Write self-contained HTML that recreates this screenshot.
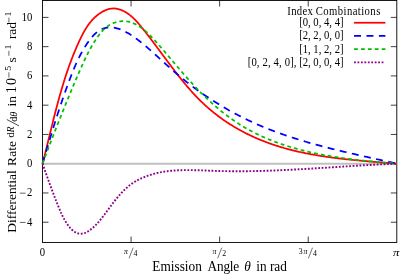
<!DOCTYPE html>
<html><head><meta charset="utf-8"><title>Differential Rate</title>
<style>
html,body{margin:0;padding:0;background:#fff;}
svg{display:block;font-family:"Liberation Serif",serif;fill:#000;will-change:transform;}
</style></head>
<body>
<svg width="415" height="278" viewBox="0 0 415 278">
<rect width="415" height="278" fill="#fff"/>
<path d="M42.5,17.40h6M396.8,17.40h-6M42.5,46.66h6M396.8,46.66h-6M42.5,75.92h6M396.8,75.92h-6M42.5,105.18h6M396.8,105.18h-6M42.5,134.44h6M396.8,134.44h-6M42.5,163.70h6M396.8,163.70h-6M42.5,192.96h6M396.8,192.96h-6M42.5,222.22h6M396.8,222.22h-6M131.07,242.5v-6M131.07,0.5v6M219.65,242.5v-6M219.65,0.5v6M308.23,242.5v-6M308.23,0.5v6" stroke="#000" stroke-width="0.75" fill="none"/>
<rect x="42.5" y="0.5" width="354.3" height="242.0" fill="none" stroke="#000" stroke-width="0.9"/>
<path d="M43.0,163.7H396.3" stroke="#c0c0c0" stroke-width="2" fill="none"/>
<g fill="none" stroke-linejoin="round">
<path d="M42.50,163.70 L42.76,162.69 L43.02,161.69 L43.28,160.68 L43.54,159.68 L43.80,158.67 L44.05,157.66 L44.31,156.65 L44.56,155.65 L44.81,154.64 L45.07,153.63 L45.32,152.62 L45.57,151.61 L45.82,150.60 L46.07,149.59 L46.32,148.59 L46.57,147.58 L46.82,146.57 L47.07,145.56 L47.32,144.55 L47.57,143.54 L47.81,142.53 L48.06,141.52 L48.31,140.51 L48.55,139.50 L48.80,138.49 L49.05,137.48 L49.30,136.47 L49.54,135.46 L49.79,134.45 L50.04,133.43 L50.28,132.42 L50.53,131.41 L50.78,130.40 L51.03,129.39 L51.27,128.38 L51.52,127.37 L51.77,126.37 L52.02,125.36 L52.27,124.35 L52.52,123.34 L52.77,122.33 L53.02,121.32 L53.27,120.31 L53.52,119.30 L53.78,118.29 L54.03,117.29 L54.29,116.28 L54.54,115.27 L54.80,114.26 L55.06,113.26 L55.31,112.25 L55.57,111.24 L55.83,110.24 L56.10,109.23 L56.36,108.23 L56.62,107.22 L56.89,106.22 L57.15,105.21 L57.42,104.21 L57.69,103.20 L57.96,102.20 L58.23,101.20 L58.51,100.20 L58.78,99.20 L59.06,98.20 L59.33,97.19 L59.61,96.19 L59.89,95.19 L60.18,94.20 L60.46,93.20 L60.75,92.20 L61.04,91.20 L61.33,90.21 L61.62,89.21 L61.91,88.21 L62.21,87.22 L62.51,86.23 L62.81,85.23 L63.11,84.24 L63.41,83.25 L63.72,82.26 L64.03,81.26 L64.34,80.27 L64.65,79.29 L64.97,78.30 L65.29,77.31 L65.61,76.32 L65.93,75.34 L66.25,74.35 L66.58,73.37 L66.91,72.38 L67.25,71.40 L67.58,70.42 L67.92,69.44 L68.26,68.46 L68.61,67.48 L68.96,66.50 L69.31,65.52 L69.66,64.54 L70.02,63.57 L70.37,62.59 L70.74,61.62 L71.10,60.65 L71.47,59.68 L71.84,58.70 L72.22,57.74 L72.60,56.77 L72.98,55.80 L73.36,54.83 L73.75,53.87 L74.14,52.90 L74.54,51.94 L74.94,50.98 L75.34,50.02 L75.75,49.06 L76.15,48.10 L76.57,47.14 L76.99,46.18 L77.41,45.23 L77.83,44.28 L78.26,43.32 L78.69,42.37 L79.13,41.42 L79.57,40.47 L80.01,39.52 L80.46,38.58 L80.92,37.64 L81.38,36.70 L81.85,35.77 L82.33,34.83 L82.81,33.91 L83.30,32.99 L83.81,32.07 L84.32,31.17 L84.84,30.27 L85.37,29.37 L85.92,28.49 L86.47,27.61 L87.04,26.74 L87.62,25.88 L88.21,25.03 L88.82,24.19 L89.45,23.37 L90.08,22.55 L90.74,21.75 L91.41,20.95 L92.10,20.18 L92.80,19.41 L93.52,18.66 L94.27,17.92 L95.03,17.20 L95.81,16.49 L96.61,15.80 L97.43,15.13 L98.27,14.48 L99.12,13.85 L100.00,13.24 L100.88,12.66 L101.79,12.11 L102.70,11.58 L103.63,11.10 L104.57,10.64 L105.52,10.22 L106.47,9.84 L107.44,9.51 L108.41,9.21 L109.38,8.96 L110.36,8.76 L111.34,8.61 L112.33,8.51 L113.31,8.47 L114.30,8.48 L115.28,8.55 L116.26,8.67 L117.24,8.84 L118.21,9.05 L119.18,9.32 L120.15,9.62 L121.11,9.97 L122.06,10.36 L123.00,10.79 L123.93,11.25 L124.86,11.75 L125.77,12.27 L126.67,12.83 L127.56,13.42 L128.44,14.03 L129.30,14.66 L130.15,15.32 L130.98,15.99 L131.79,16.68 L132.59,17.39 L133.37,18.11 L134.13,18.84 L134.88,19.59 L135.61,20.34 L136.33,21.10 L137.03,21.87 L137.73,22.65 L138.41,23.43 L139.09,24.23 L139.76,25.02 L140.42,25.82 L141.08,26.62 L141.73,27.43 L142.38,28.24 L143.03,29.04 L143.68,29.85 L144.32,30.66 L144.97,31.48 L145.61,32.29 L146.25,33.10 L146.88,33.92 L147.52,34.74 L148.15,35.55 L148.79,36.37 L149.42,37.19 L150.05,38.01 L150.67,38.84 L151.30,39.66 L151.93,40.48 L152.55,41.31 L153.18,42.13 L153.80,42.96 L154.42,43.78 L155.04,44.61 L155.66,45.44 L156.28,46.27 L156.90,47.10 L157.52,47.93 L158.14,48.75 L158.75,49.58 L159.37,50.42 L159.99,51.25 L160.60,52.08 L161.22,52.91 L161.84,53.74 L162.45,54.57 L163.07,55.40 L163.69,56.24 L164.31,57.07 L164.92,57.90 L165.54,58.73 L166.16,59.56 L166.78,60.40 L167.40,61.23 L168.02,62.06 L168.64,62.89 L169.26,63.72 L169.89,64.55 L170.51,65.38 L171.14,66.21 L171.76,67.04 L172.39,67.87 L173.02,68.70 L173.65,69.52 L174.28,70.35 L174.92,71.18 L175.55,72.00 L176.19,72.82 L176.83,73.65 L177.47,74.47 L178.11,75.29 L178.75,76.11 L179.40,76.92 L180.04,77.74 L180.69,78.55 L181.35,79.36 L182.00,80.17 L182.66,80.98 L183.32,81.79 L183.98,82.59 L184.64,83.39 L185.31,84.19 L185.97,84.99 L186.65,85.79 L187.32,86.58 L188.00,87.37 L188.68,88.16 L189.36,88.94 L190.04,89.72 L190.73,90.50 L191.42,91.28 L192.12,92.05 L192.82,92.82 L193.52,93.58 L194.22,94.35 L194.93,95.11 L195.64,95.86 L196.36,96.61 L197.07,97.36 L197.80,98.11 L198.52,98.85 L199.25,99.59 L199.99,100.32 L200.72,101.05 L201.47,101.77 L202.21,102.49 L202.96,103.21 L203.71,103.92 L204.47,104.63 L205.24,105.33 L206.00,106.03 L206.77,106.72 L207.55,107.41 L208.33,108.10 L209.11,108.78 L209.90,109.45 L210.69,110.12 L211.49,110.79 L212.29,111.45 L213.10,112.10 L213.91,112.75 L214.72,113.40 L215.54,114.04 L216.36,114.68 L217.18,115.31 L218.01,115.94 L218.84,116.56 L219.68,117.18 L220.52,117.79 L221.36,118.40 L222.21,119.00 L223.06,119.60 L223.91,120.19 L224.77,120.78 L225.63,121.36 L226.49,121.94 L227.36,122.52 L228.23,123.08 L229.10,123.65 L229.98,124.21 L230.86,124.76 L231.74,125.31 L232.63,125.86 L233.52,126.40 L234.41,126.93 L235.30,127.46 L236.20,127.99 L237.10,128.51 L238.01,129.02 L238.91,129.53 L239.82,130.04 L240.73,130.54 L241.65,131.03 L242.57,131.52 L243.49,132.01 L244.41,132.49 L245.33,132.97 L246.26,133.44 L247.19,133.90 L248.12,134.36 L249.05,134.82 L249.99,135.27 L250.93,135.72 L251.87,136.16 L252.81,136.59 L253.76,137.02 L254.70,137.45 L255.65,137.87 L256.60,138.29 L257.56,138.70 L258.51,139.10 L259.47,139.50 L260.42,139.90 L261.38,140.29 L262.35,140.67 L263.31,141.05 L264.27,141.43 L265.24,141.80 L266.21,142.17 L267.18,142.53 L268.15,142.88 L269.12,143.23 L270.10,143.58 L271.08,143.92 L272.05,144.26 L273.03,144.59 L274.01,144.92 L275.00,145.25 L275.98,145.57 L276.96,145.88 L277.95,146.19 L278.94,146.50 L279.93,146.80 L280.92,147.10 L281.91,147.39 L282.90,147.68 L283.90,147.97 L284.89,148.25 L285.89,148.53 L286.89,148.80 L287.89,149.07 L288.89,149.34 L289.89,149.60 L290.90,149.85 L291.90,150.11 L292.91,150.36 L293.91,150.61 L294.92,150.85 L295.93,151.09 L296.94,151.32 L297.95,151.56 L298.96,151.79 L299.98,152.01 L300.99,152.23 L302.00,152.45 L303.02,152.67 L304.04,152.88 L305.05,153.09 L306.07,153.29 L307.09,153.50 L308.11,153.70 L309.13,153.89 L310.16,154.08 L311.18,154.27 L312.20,154.46 L313.23,154.65 L314.25,154.83 L315.28,155.01 L316.30,155.18 L317.33,155.36 L318.36,155.53 L319.39,155.69 L320.42,155.86 L321.45,156.02 L322.48,156.18 L323.51,156.34 L324.54,156.49 L325.57,156.65 L326.60,156.80 L327.64,156.94 L328.67,157.09 L329.71,157.23 L330.74,157.37 L331.77,157.51 L332.81,157.65 L333.85,157.79 L334.88,157.92 L335.92,158.05 L336.95,158.18 L337.99,158.30 L339.03,158.43 L340.07,158.55 L341.10,158.67 L342.14,158.79 L343.18,158.91 L344.22,159.03 L345.26,159.14 L346.30,159.26 L347.33,159.37 L348.37,159.48 L349.41,159.59 L350.45,159.69 L351.49,159.80 L352.53,159.90 L353.57,160.00 L354.61,160.11 L355.65,160.21 L356.69,160.31 L357.73,160.40 L358.77,160.50 L359.81,160.60 L360.85,160.69 L361.88,160.79 L362.92,160.88 L363.96,160.97 L365.00,161.06 L366.04,161.15 L367.08,161.24 L368.11,161.33 L369.15,161.42 L370.19,161.51 L371.23,161.60 L372.26,161.68 L373.30,161.77 L374.33,161.85 L375.37,161.94 L376.41,162.02 L377.44,162.11 L378.47,162.19 L379.51,162.28 L380.54,162.36 L381.58,162.44 L382.61,162.53 L383.64,162.61 L384.67,162.69 L385.70,162.78 L386.73,162.86 L387.76,162.94 L388.79,163.03 L389.82,163.11 L390.85,163.19 L391.87,163.28 L392.90,163.36 L393.93,163.44 L394.95,163.53 L395.98,163.61 L397.00,163.70" stroke="#ff0000" stroke-width="1.75"/>
<path d="M42.50,163.70 L42.77,162.79 L43.04,161.87 L43.31,160.95 L43.59,160.04 L43.86,159.12 L44.13,158.20 L44.40,157.28 L44.68,156.36 L44.95,155.44 L45.22,154.52 L45.50,153.60 L45.77,152.68 L46.05,151.76 L46.32,150.84 L46.60,149.91 L46.87,148.99 L47.15,148.07 L47.42,147.14 L47.70,146.22 L47.98,145.29 L48.26,144.37 L48.53,143.44 L48.81,142.51 L49.09,141.59 L49.37,140.66 L49.65,139.73 L49.93,138.81 L50.21,137.88 L50.50,136.95 L50.78,136.03 L51.06,135.10 L51.35,134.17 L51.63,133.24 L51.91,132.31 L52.20,131.39 L52.49,130.46 L52.77,129.53 L53.06,128.60 L53.35,127.67 L53.64,126.75 L53.92,125.82 L54.21,124.89 L54.50,123.96 L54.80,123.04 L55.09,122.11 L55.38,121.18 L55.67,120.25 L55.97,119.33 L56.26,118.40 L56.56,117.48 L56.86,116.55 L57.15,115.62 L57.45,114.70 L57.75,113.78 L58.05,112.85 L58.35,111.93 L58.65,111.00 L58.95,110.08 L59.26,109.16 L59.56,108.24 L59.87,107.32 L60.17,106.39 L60.48,105.47 L60.79,104.56 L61.10,103.64 L61.40,102.72 L61.72,101.80 L62.03,100.88 L62.34,99.97 L62.65,99.05 L62.97,98.14 L63.28,97.22 L63.60,96.31 L63.92,95.40 L64.24,94.48 L64.56,93.57 L64.88,92.66 L65.20,91.76 L65.52,90.85 L65.85,89.94 L66.17,89.03 L66.50,88.13 L66.83,87.22 L67.16,86.32 L67.49,85.42 L67.82,84.52 L68.15,83.62 L68.48,82.72 L68.82,81.82 L69.16,80.93 L69.49,80.03 L69.83,79.14 L70.17,78.24 L70.51,77.35 L70.86,76.46 L71.20,75.57 L71.55,74.68 L71.89,73.80 L72.24,72.91 L72.60,72.03 L72.95,71.15 L73.31,70.26 L73.67,69.38 L74.04,68.51 L74.41,67.63 L74.78,66.75 L75.15,65.88 L75.54,65.00 L75.92,64.13 L76.31,63.26 L76.70,62.39 L77.10,61.52 L77.51,60.65 L77.92,59.79 L78.34,58.92 L78.76,58.06 L79.19,57.20 L79.62,56.34 L80.06,55.48 L80.51,54.62 L80.97,53.76 L81.43,52.91 L81.90,52.05 L82.38,51.20 L82.87,50.35 L83.36,49.50 L83.86,48.65 L84.37,47.80 L84.89,46.96 L85.42,46.11 L85.96,45.27 L86.51,44.42 L87.07,43.58 L87.64,42.75 L88.22,41.91 L88.80,41.09 L89.40,40.27 L90.01,39.46 L90.64,38.67 L91.27,37.89 L91.91,37.12 L92.57,36.37 L93.24,35.64 L93.92,34.93 L94.61,34.24 L95.32,33.58 L96.04,32.94 L96.77,32.33 L97.52,31.75 L98.28,31.20 L99.05,30.68 L99.84,30.20 L100.64,29.75 L101.46,29.34 L102.30,28.97 L103.14,28.64 L104.01,28.35 L104.88,28.11 L105.77,27.90 L106.67,27.74 L107.58,27.61 L108.50,27.52 L109.42,27.46 L110.35,27.45 L111.28,27.47 L112.22,27.52 L113.16,27.61 L114.10,27.73 L115.04,27.88 L115.97,28.07 L116.90,28.29 L117.83,28.53 L118.76,28.81 L119.67,29.12 L120.58,29.45 L121.47,29.81 L122.36,30.20 L123.24,30.61 L124.11,31.03 L124.97,31.48 L125.82,31.93 L126.67,32.40 L127.51,32.87 L128.34,33.36 L129.17,33.86 L129.99,34.36 L130.80,34.87 L131.61,35.40 L132.42,35.93 L133.22,36.47 L134.01,37.02 L134.80,37.57 L135.58,38.13 L136.36,38.70 L137.13,39.27 L137.91,39.85 L138.67,40.44 L139.43,41.03 L140.19,41.63 L140.95,42.23 L141.70,42.83 L142.45,43.44 L143.20,44.06 L143.94,44.67 L144.68,45.29 L145.42,45.92 L146.15,46.54 L146.89,47.17 L147.62,47.80 L148.35,48.43 L149.08,49.06 L149.81,49.70 L150.53,50.33 L151.25,50.97 L151.98,51.61 L152.70,52.25 L153.42,52.89 L154.13,53.54 L154.85,54.18 L155.57,54.83 L156.28,55.48 L157.00,56.12 L157.71,56.77 L158.42,57.42 L159.14,58.07 L159.85,58.72 L160.56,59.37 L161.27,60.02 L161.99,60.67 L162.70,61.32 L163.41,61.97 L164.12,62.62 L164.84,63.27 L165.55,63.92 L166.26,64.57 L166.98,65.21 L167.69,65.86 L168.41,66.51 L169.12,67.15 L169.84,67.79 L170.56,68.44 L171.28,69.08 L172.00,69.72 L172.72,70.35 L173.45,70.99 L174.17,71.62 L174.90,72.26 L175.63,72.89 L176.36,73.52 L177.09,74.14 L177.82,74.77 L178.56,75.39 L179.30,76.01 L180.04,76.63 L180.78,77.24 L181.52,77.85 L182.27,78.47 L183.02,79.07 L183.77,79.68 L184.52,80.28 L185.27,80.89 L186.03,81.49 L186.78,82.08 L187.54,82.68 L188.30,83.27 L189.07,83.86 L189.83,84.45 L190.60,85.04 L191.36,85.62 L192.13,86.20 L192.90,86.78 L193.68,87.36 L194.45,87.94 L195.23,88.51 L196.00,89.08 L196.78,89.65 L197.57,90.21 L198.35,90.78 L199.13,91.34 L199.92,91.90 L200.71,92.45 L201.50,93.01 L202.29,93.56 L203.08,94.11 L203.88,94.65 L204.67,95.20 L205.47,95.74 L206.27,96.28 L207.07,96.82 L207.88,97.35 L208.68,97.89 L209.49,98.42 L210.29,98.95 L211.10,99.47 L211.91,99.99 L212.73,100.52 L213.54,101.03 L214.36,101.55 L215.17,102.06 L215.99,102.58 L216.81,103.08 L217.63,103.59 L218.45,104.09 L219.28,104.60 L220.10,105.10 L220.93,105.59 L221.76,106.09 L222.59,106.58 L223.42,107.07 L224.26,107.56 L225.09,108.04 L225.93,108.52 L226.76,109.00 L227.60,109.48 L228.44,109.95 L229.28,110.43 L230.13,110.89 L230.97,111.36 L231.82,111.83 L232.66,112.29 L233.51,112.75 L234.36,113.21 L235.21,113.66 L236.06,114.11 L236.92,114.56 L237.77,115.01 L238.63,115.45 L239.49,115.90 L240.34,116.33 L241.20,116.77 L242.07,117.21 L242.93,117.64 L243.79,118.07 L244.66,118.49 L245.52,118.92 L246.39,119.34 L247.26,119.76 L248.13,120.17 L249.00,120.59 L249.87,121.00 L250.75,121.41 L251.62,121.81 L252.50,122.22 L253.37,122.62 L254.25,123.01 L255.13,123.41 L256.01,123.80 L256.89,124.19 L257.77,124.58 L258.66,124.96 L259.54,125.35 L260.43,125.73 L261.31,126.10 L262.20,126.48 L263.09,126.85 L263.98,127.22 L264.87,127.58 L265.76,127.95 L266.66,128.31 L267.55,128.67 L268.45,129.03 L269.34,129.38 L270.24,129.73 L271.14,130.08 L272.04,130.43 L272.94,130.77 L273.84,131.11 L274.74,131.45 L275.64,131.79 L276.55,132.12 L277.45,132.46 L278.36,132.79 L279.26,133.12 L280.17,133.44 L281.08,133.76 L281.99,134.09 L282.89,134.41 L283.81,134.72 L284.72,135.04 L285.63,135.35 L286.54,135.66 L287.46,135.97 L288.37,136.28 L289.28,136.58 L290.20,136.89 L291.12,137.19 L292.03,137.49 L292.95,137.78 L293.87,138.08 L294.79,138.37 L295.71,138.66 L296.63,138.95 L297.55,139.24 L298.48,139.53 L299.40,139.81 L300.32,140.09 L301.25,140.37 L302.17,140.65 L303.10,140.93 L304.02,141.21 L304.95,141.48 L305.88,141.75 L306.81,142.02 L307.73,142.29 L308.66,142.56 L309.59,142.83 L310.52,143.09 L311.45,143.35 L312.38,143.62 L313.31,143.88 L314.25,144.13 L315.18,144.39 L316.11,144.65 L317.05,144.90 L317.98,145.16 L318.91,145.41 L319.85,145.66 L320.78,145.91 L321.72,146.15 L322.66,146.40 L323.59,146.65 L324.53,146.89 L325.47,147.13 L326.40,147.38 L327.34,147.62 L328.28,147.86 L329.22,148.09 L330.16,148.33 L331.10,148.57 L332.03,148.80 L332.97,149.04 L333.91,149.27 L334.85,149.50 L335.80,149.73 L336.74,149.96 L337.68,150.19 L338.62,150.42 L339.56,150.65 L340.50,150.88 L341.44,151.10 L342.39,151.33 L343.33,151.55 L344.27,151.78 L345.21,152.00 L346.16,152.22 L347.10,152.44 L348.04,152.66 L348.98,152.88 L349.93,153.10 L350.87,153.32 L351.81,153.54 L352.76,153.76 L353.70,153.97 L354.64,154.19 L355.59,154.40 L356.53,154.62 L357.48,154.83 L358.42,155.05 L359.36,155.26 L360.31,155.48 L361.25,155.69 L362.19,155.90 L363.14,156.12 L364.08,156.33 L365.02,156.54 L365.97,156.75 L366.91,156.96 L367.85,157.17 L368.80,157.38 L369.74,157.59 L370.68,157.80 L371.63,158.01 L372.57,158.22 L373.51,158.43 L374.45,158.64 L375.40,158.85 L376.34,159.06 L377.28,159.27 L378.22,159.48 L379.16,159.69 L380.11,159.90 L381.05,160.11 L381.99,160.32 L382.93,160.53 L383.87,160.74 L384.81,160.95 L385.75,161.16 L386.69,161.37 L387.63,161.58 L388.57,161.79 L389.50,162.00 L390.44,162.21 L391.38,162.42 L392.32,162.64 L393.25,162.85 L394.19,163.06 L395.13,163.27 L396.06,163.49 L397.00,163.70" stroke="#0000ff" stroke-width="1.75" stroke-dasharray="6.95 5.48"/>
<path d="M42.50,163.70 L42.85,162.78 L43.19,161.85 L43.54,160.93 L43.89,160.00 L44.24,159.08 L44.58,158.15 L44.93,157.23 L45.28,156.30 L45.63,155.38 L45.98,154.45 L46.33,153.53 L46.68,152.61 L47.03,151.68 L47.38,150.76 L47.73,149.83 L48.09,148.91 L48.44,147.98 L48.79,147.06 L49.14,146.14 L49.50,145.21 L49.85,144.29 L50.20,143.37 L50.56,142.44 L50.91,141.52 L51.27,140.60 L51.62,139.67 L51.98,138.75 L52.34,137.83 L52.69,136.90 L53.05,135.98 L53.41,135.06 L53.77,134.14 L54.12,133.22 L54.48,132.29 L54.84,131.37 L55.20,130.45 L55.56,129.53 L55.92,128.61 L56.28,127.68 L56.65,126.76 L57.01,125.84 L57.37,124.92 L57.73,124.00 L58.10,123.08 L58.46,122.16 L58.82,121.24 L59.19,120.32 L59.55,119.40 L59.92,118.48 L60.28,117.56 L60.65,116.64 L61.02,115.72 L61.38,114.81 L61.75,113.89 L62.12,112.97 L62.49,112.05 L62.86,111.13 L63.23,110.22 L63.60,109.30 L63.97,108.38 L64.34,107.47 L64.71,106.55 L65.08,105.63 L65.46,104.72 L65.83,103.80 L66.20,102.89 L66.58,101.97 L66.95,101.06 L67.33,100.14 L67.70,99.23 L68.08,98.31 L68.45,97.40 L68.83,96.49 L69.21,95.57 L69.59,94.66 L69.96,93.75 L70.34,92.84 L70.72,91.92 L71.10,91.01 L71.48,90.10 L71.87,89.19 L72.25,88.28 L72.63,87.37 L73.01,86.46 L73.40,85.55 L73.78,84.64 L74.16,83.73 L74.55,82.82 L74.93,81.92 L75.32,81.01 L75.71,80.10 L76.09,79.19 L76.48,78.29 L76.87,77.38 L77.26,76.48 L77.65,75.57 L78.04,74.66 L78.43,73.76 L78.82,72.86 L79.21,71.95 L79.60,71.05 L80.00,70.15 L80.39,69.24 L80.79,68.34 L81.19,67.44 L81.59,66.54 L81.99,65.65 L82.40,64.75 L82.80,63.85 L83.21,62.96 L83.62,62.06 L84.04,61.17 L84.45,60.28 L84.87,59.39 L85.30,58.50 L85.73,57.62 L86.16,56.73 L86.59,55.85 L87.03,54.97 L87.47,54.09 L87.92,53.21 L88.37,52.34 L88.83,51.47 L89.29,50.60 L89.76,49.73 L90.23,48.86 L90.71,48.00 L91.19,47.14 L91.68,46.28 L92.17,45.42 L92.67,44.57 L93.18,43.72 L93.69,42.87 L94.21,42.03 L94.74,41.19 L95.27,40.35 L95.81,39.52 L96.36,38.68 L96.91,37.86 L97.48,37.04 L98.05,36.23 L98.64,35.43 L99.23,34.64 L99.84,33.86 L100.46,33.09 L101.10,32.33 L101.74,31.60 L102.40,30.88 L103.08,30.17 L103.77,29.49 L104.48,28.82 L105.21,28.18 L105.95,27.56 L106.72,26.96 L107.50,26.39 L108.30,25.84 L109.11,25.32 L109.94,24.83 L110.79,24.36 L111.65,23.92 L112.52,23.51 L113.40,23.14 L114.29,22.79 L115.20,22.47 L116.11,22.19 L117.03,21.93 L117.96,21.71 L118.89,21.53 L119.83,21.38 L120.77,21.26 L121.72,21.19 L122.67,21.14 L123.62,21.14 L124.57,21.17 L125.52,21.25 L126.46,21.36 L127.41,21.51 L128.35,21.69 L129.28,21.91 L130.22,22.16 L131.14,22.45 L132.06,22.76 L132.97,23.11 L133.87,23.48 L134.76,23.88 L135.64,24.30 L136.51,24.75 L137.37,25.23 L138.21,25.72 L139.04,26.23 L139.86,26.77 L140.67,27.32 L141.47,27.89 L142.25,28.47 L143.03,29.06 L143.79,29.67 L144.54,30.30 L145.28,30.93 L146.02,31.57 L146.74,32.23 L147.46,32.89 L148.17,33.57 L148.87,34.25 L149.57,34.94 L150.26,35.63 L150.95,36.33 L151.63,37.04 L152.31,37.75 L152.98,38.46 L153.65,39.18 L154.32,39.91 L154.98,40.63 L155.64,41.36 L156.30,42.09 L156.96,42.83 L157.61,43.57 L158.26,44.31 L158.91,45.05 L159.55,45.80 L160.20,46.54 L160.84,47.29 L161.49,48.03 L162.13,48.78 L162.77,49.53 L163.41,50.28 L164.05,51.02 L164.69,51.77 L165.33,52.52 L165.96,53.27 L166.60,54.02 L167.24,54.77 L167.87,55.52 L168.51,56.27 L169.14,57.02 L169.78,57.77 L170.41,58.52 L171.05,59.27 L171.69,60.02 L172.32,60.77 L172.96,61.52 L173.59,62.27 L174.23,63.02 L174.86,63.77 L175.50,64.52 L176.14,65.27 L176.77,66.02 L177.41,66.77 L178.05,67.51 L178.69,68.26 L179.33,69.01 L179.97,69.75 L180.61,70.50 L181.26,71.24 L181.90,71.98 L182.54,72.73 L183.19,73.47 L183.84,74.21 L184.49,74.95 L185.13,75.69 L185.79,76.42 L186.44,77.16 L187.09,77.90 L187.75,78.63 L188.40,79.37 L189.06,80.10 L189.72,80.83 L190.39,81.56 L191.05,82.29 L191.72,83.01 L192.38,83.74 L193.05,84.47 L193.72,85.19 L194.40,85.91 L195.08,86.63 L195.75,87.35 L196.44,88.06 L197.12,88.78 L197.80,89.49 L198.49,90.20 L199.18,90.91 L199.88,91.62 L200.57,92.33 L201.27,93.03 L201.98,93.73 L202.68,94.43 L203.39,95.13 L204.10,95.82 L204.81,96.52 L205.53,97.21 L206.25,97.90 L206.97,98.58 L207.69,99.27 L208.42,99.95 L209.15,100.63 L209.88,101.30 L210.61,101.97 L211.35,102.64 L212.09,103.31 L212.83,103.98 L213.58,104.64 L214.33,105.30 L215.08,105.95 L215.83,106.60 L216.59,107.25 L217.35,107.90 L218.11,108.54 L218.87,109.18 L219.64,109.81 L220.41,110.45 L221.18,111.08 L221.95,111.70 L222.73,112.32 L223.51,112.94 L224.29,113.55 L225.08,114.16 L225.86,114.77 L226.65,115.37 L227.45,115.97 L228.24,116.56 L229.04,117.15 L229.84,117.73 L230.64,118.31 L231.45,118.89 L232.26,119.46 L233.07,120.03 L233.88,120.59 L234.70,121.15 L235.52,121.70 L236.34,122.25 L237.16,122.80 L237.99,123.34 L238.82,123.87 L239.65,124.40 L240.48,124.92 L241.32,125.44 L242.16,125.96 L243.00,126.47 L243.84,126.97 L244.69,127.47 L245.53,127.97 L246.39,128.46 L247.24,128.94 L248.09,129.42 L248.95,129.90 L249.81,130.37 L250.67,130.83 L251.54,131.29 L252.41,131.75 L253.27,132.20 L254.15,132.65 L255.02,133.09 L255.90,133.53 L256.77,133.96 L257.65,134.39 L258.54,134.81 L259.42,135.23 L260.31,135.65 L261.19,136.06 L262.08,136.47 L262.98,136.87 L263.87,137.27 L264.77,137.66 L265.66,138.05 L266.56,138.43 L267.47,138.82 L268.37,139.19 L269.28,139.57 L270.18,139.93 L271.09,140.30 L272.00,140.66 L272.92,141.02 L273.83,141.37 L274.75,141.72 L275.66,142.06 L276.58,142.40 L277.51,142.74 L278.43,143.07 L279.35,143.40 L280.28,143.73 L281.21,144.05 L282.14,144.37 L283.07,144.68 L284.00,144.99 L284.93,145.30 L285.87,145.60 L286.81,145.90 L287.74,146.20 L288.68,146.49 L289.63,146.78 L290.57,147.06 L291.51,147.35 L292.46,147.62 L293.40,147.90 L294.35,148.17 L295.30,148.44 L296.25,148.71 L297.20,148.97 L298.15,149.23 L299.11,149.48 L300.06,149.73 L301.02,149.98 L301.98,150.23 L302.94,150.47 L303.90,150.71 L304.86,150.95 L305.82,151.18 L306.78,151.41 L307.74,151.64 L308.71,151.87 L309.68,152.09 L310.64,152.31 L311.61,152.52 L312.58,152.74 L313.55,152.95 L314.52,153.16 L315.49,153.36 L316.46,153.56 L317.43,153.76 L318.41,153.96 L319.38,154.16 L320.36,154.35 L321.33,154.54 L322.31,154.72 L323.29,154.91 L324.26,155.09 L325.24,155.27 L326.22,155.45 L327.20,155.62 L328.18,155.79 L329.16,155.96 L330.14,156.13 L331.12,156.30 L332.11,156.46 L333.09,156.62 L334.07,156.78 L335.06,156.94 L336.04,157.09 L337.03,157.24 L338.01,157.39 L339.00,157.54 L339.98,157.69 L340.97,157.83 L341.95,157.98 L342.94,158.12 L343.93,158.25 L344.91,158.39 L345.90,158.53 L346.89,158.66 L347.87,158.79 L348.86,158.92 L349.85,159.05 L350.84,159.17 L351.82,159.30 L352.81,159.42 L353.80,159.54 L354.79,159.66 L355.78,159.78 L356.76,159.89 L357.75,160.01 L358.74,160.12 L359.73,160.23 L360.72,160.34 L361.70,160.45 L362.69,160.56 L363.68,160.67 L364.67,160.77 L365.65,160.88 L366.64,160.98 L367.63,161.08 L368.61,161.18 L369.60,161.28 L370.58,161.38 L371.57,161.47 L372.55,161.57 L373.54,161.67 L374.52,161.76 L375.50,161.85 L376.49,161.94 L377.47,162.03 L378.45,162.12 L379.43,162.21 L380.42,162.30 L381.40,162.39 L382.38,162.48 L383.36,162.56 L384.34,162.65 L385.31,162.73 L386.29,162.81 L387.27,162.90 L388.25,162.98 L389.22,163.06 L390.20,163.14 L391.17,163.22 L392.14,163.30 L393.12,163.38 L394.09,163.46 L395.06,163.54 L396.03,163.62 L397.00,163.70" stroke="#00c000" stroke-width="1.75" stroke-dasharray="3.8 3.116"/>
<path d="M42.50,163.70 L42.78,164.49 L43.06,165.28 L43.34,166.08 L43.62,166.87 L43.91,167.67 L44.19,168.46 L44.47,169.26 L44.75,170.06 L45.04,170.86 L45.32,171.66 L45.61,172.46 L45.89,173.26 L46.18,174.06 L46.46,174.86 L46.75,175.66 L47.03,176.46 L47.32,177.26 L47.61,178.07 L47.90,178.87 L48.19,179.67 L48.48,180.47 L48.77,181.28 L49.06,182.08 L49.35,182.88 L49.64,183.68 L49.93,184.49 L50.23,185.29 L50.52,186.09 L50.82,186.89 L51.11,187.69 L51.41,188.49 L51.71,189.29 L52.00,190.09 L52.30,190.89 L52.60,191.69 L52.90,192.49 L53.20,193.28 L53.50,194.08 L53.81,194.88 L54.11,195.67 L54.42,196.46 L54.72,197.26 L55.03,198.05 L55.34,198.84 L55.64,199.63 L55.95,200.42 L56.26,201.20 L56.58,201.99 L56.89,202.77 L57.20,203.56 L57.52,204.34 L57.83,205.12 L58.15,205.90 L58.47,206.67 L58.78,207.45 L59.10,208.22 L59.43,208.99 L59.75,209.76 L60.07,210.53 L60.40,211.30 L60.74,212.06 L61.07,212.83 L61.42,213.59 L61.77,214.35 L62.12,215.10 L62.49,215.86 L62.86,216.61 L63.24,217.36 L63.63,218.10 L64.03,218.85 L64.44,219.59 L64.86,220.33 L65.30,221.07 L65.74,221.80 L66.20,222.54 L66.68,223.27 L67.17,223.99 L67.68,224.72 L68.20,225.44 L68.74,226.15 L69.30,226.84 L69.87,227.53 L70.45,228.19 L71.05,228.84 L71.67,229.45 L72.30,230.04 L72.95,230.60 L73.61,231.12 L74.29,231.61 L74.98,232.05 L75.69,232.44 L76.41,232.79 L77.15,233.08 L77.90,233.32 L78.67,233.50 L79.45,233.62 L80.24,233.68 L81.04,233.69 L81.84,233.63 L82.64,233.52 L83.45,233.36 L84.24,233.14 L85.03,232.87 L85.81,232.55 L86.58,232.19 L87.34,231.79 L88.08,231.35 L88.81,230.88 L89.53,230.39 L90.23,229.88 L90.92,229.36 L91.59,228.83 L92.25,228.29 L92.90,227.73 L93.53,227.17 L94.15,226.60 L94.76,226.02 L95.36,225.44 L95.95,224.84 L96.53,224.24 L97.10,223.63 L97.66,223.01 L98.22,222.39 L98.76,221.76 L99.30,221.13 L99.84,220.48 L100.37,219.84 L100.90,219.18 L101.42,218.53 L101.95,217.86 L102.47,217.20 L102.98,216.52 L103.50,215.85 L104.02,215.17 L104.53,214.49 L105.04,213.80 L105.56,213.12 L106.07,212.43 L106.58,211.73 L107.10,211.04 L107.61,210.35 L108.12,209.65 L108.64,208.95 L109.15,208.26 L109.67,207.56 L110.19,206.86 L110.70,206.16 L111.22,205.47 L111.74,204.77 L112.27,204.07 L112.79,203.38 L113.32,202.69 L113.85,202.00 L114.38,201.32 L114.91,200.63 L115.45,199.95 L115.99,199.27 L116.53,198.60 L117.08,197.93 L117.63,197.27 L118.19,196.60 L118.74,195.95 L119.31,195.30 L119.87,194.65 L120.44,194.01 L121.02,193.38 L121.60,192.75 L122.19,192.13 L122.78,191.52 L123.37,190.91 L123.98,190.31 L124.58,189.72 L125.20,189.14 L125.82,188.57 L126.44,188.00 L127.07,187.45 L127.71,186.90 L128.36,186.36 L129.01,185.84 L129.67,185.32 L130.34,184.81 L131.01,184.32 L131.69,183.83 L132.38,183.36 L133.07,182.89 L133.77,182.44 L134.48,181.99 L135.19,181.56 L135.91,181.14 L136.64,180.72 L137.37,180.31 L138.11,179.92 L138.85,179.53 L139.60,179.16 L140.35,178.79 L141.11,178.43 L141.87,178.08 L142.64,177.74 L143.41,177.41 L144.18,177.09 L144.97,176.77 L145.75,176.47 L146.54,176.17 L147.33,175.88 L148.12,175.60 L148.92,175.33 L149.73,175.07 L150.53,174.81 L151.34,174.56 L152.15,174.32 L152.96,174.09 L153.78,173.87 L154.60,173.65 L155.42,173.45 L156.24,173.24 L157.07,173.05 L157.90,172.86 L158.72,172.69 L159.55,172.51 L160.38,172.35 L161.22,172.19 L162.05,172.04 L162.88,171.90 L163.72,171.76 L164.55,171.63 L165.39,171.50 L166.22,171.38 L167.06,171.27 L167.90,171.16 L168.74,171.06 L169.58,170.97 L170.42,170.88 L171.26,170.80 L172.10,170.72 L172.94,170.65 L173.78,170.58 L174.62,170.52 L175.46,170.46 L176.31,170.41 L177.15,170.36 L178.00,170.31 L178.84,170.27 L179.69,170.24 L180.53,170.21 L181.38,170.18 L182.22,170.16 L183.07,170.14 L183.92,170.12 L184.76,170.11 L185.61,170.10 L186.46,170.09 L187.31,170.09 L188.16,170.09 L189.01,170.09 L189.86,170.10 L190.71,170.11 L191.56,170.12 L192.41,170.13 L193.26,170.15 L194.11,170.16 L194.96,170.18 L195.81,170.20 L196.66,170.23 L197.51,170.25 L198.36,170.28 L199.22,170.30 L200.07,170.33 L200.92,170.36 L201.77,170.39 L202.63,170.42 L203.48,170.46 L204.33,170.49 L205.18,170.52 L206.04,170.55 L206.89,170.59 L207.74,170.62 L208.59,170.65 L209.45,170.69 L210.30,170.72 L211.15,170.75 L212.01,170.78 L212.86,170.81 L213.71,170.84 L214.56,170.87 L215.42,170.90 L216.27,170.93 L217.12,170.95 L217.97,170.98 L218.83,171.00 L219.68,171.02 L220.53,171.05 L221.38,171.07 L222.23,171.08 L223.08,171.10 L223.94,171.12 L224.79,171.13 L225.64,171.15 L226.49,171.16 L227.34,171.18 L228.19,171.19 L229.05,171.20 L229.90,171.21 L230.75,171.22 L231.60,171.22 L232.45,171.23 L233.30,171.23 L234.15,171.24 L235.00,171.24 L235.85,171.24 L236.70,171.25 L237.55,171.25 L238.40,171.25 L239.25,171.24 L240.11,171.24 L240.96,171.24 L241.81,171.24 L242.66,171.23 L243.51,171.22 L244.36,171.22 L245.21,171.21 L246.06,171.20 L246.91,171.19 L247.76,171.18 L248.61,171.17 L249.46,171.16 L250.30,171.15 L251.15,171.13 L252.00,171.12 L252.85,171.10 L253.70,171.09 L254.55,171.07 L255.40,171.05 L256.25,171.03 L257.10,171.01 L257.95,170.99 L258.80,170.97 L259.65,170.95 L260.50,170.93 L261.34,170.91 L262.19,170.88 L263.04,170.86 L263.89,170.84 L264.74,170.81 L265.59,170.78 L266.44,170.76 L267.29,170.73 L268.13,170.70 L268.98,170.67 L269.83,170.64 L270.68,170.61 L271.53,170.58 L272.38,170.55 L273.23,170.52 L274.07,170.48 L274.92,170.45 L275.77,170.42 L276.62,170.38 L277.47,170.35 L278.31,170.31 L279.16,170.28 L280.01,170.24 L280.86,170.20 L281.71,170.17 L282.55,170.13 L283.40,170.09 L284.25,170.05 L285.10,170.01 L285.95,169.97 L286.79,169.93 L287.64,169.89 L288.49,169.85 L289.34,169.80 L290.18,169.76 L291.03,169.72 L291.88,169.68 L292.73,169.63 L293.57,169.59 L294.42,169.54 L295.27,169.50 L296.12,169.45 L296.96,169.41 L297.81,169.36 L298.66,169.31 L299.51,169.27 L300.35,169.22 L301.20,169.17 L302.05,169.13 L302.90,169.08 L303.74,169.03 L304.59,168.98 L305.44,168.93 L306.29,168.88 L307.13,168.83 L307.98,168.78 L308.83,168.73 L309.67,168.68 L310.52,168.63 L311.37,168.58 L312.22,168.53 L313.06,168.48 L313.91,168.43 L314.76,168.38 L315.60,168.32 L316.45,168.27 L317.30,168.22 L318.15,168.17 L318.99,168.11 L319.84,168.06 L320.69,168.01 L321.53,167.96 L322.38,167.90 L323.23,167.85 L324.08,167.80 L324.92,167.74 L325.77,167.69 L326.62,167.64 L327.46,167.58 L328.31,167.53 L329.16,167.47 L330.01,167.42 L330.85,167.37 L331.70,167.31 L332.55,167.26 L333.39,167.20 L334.24,167.15 L335.09,167.10 L335.94,167.04 L336.78,166.99 L337.63,166.93 L338.48,166.88 L339.33,166.83 L340.17,166.77 L341.02,166.72 L341.87,166.67 L342.71,166.61 L343.56,166.56 L344.41,166.50 L345.26,166.45 L346.10,166.40 L346.95,166.34 L347.80,166.29 L348.65,166.24 L349.49,166.19 L350.34,166.13 L351.19,166.08 L352.04,166.03 L352.88,165.98 L353.73,165.92 L354.58,165.87 L355.43,165.82 L356.27,165.77 L357.12,165.72 L357.97,165.67 L358.82,165.62 L359.66,165.57 L360.51,165.51 L361.36,165.46 L362.21,165.41 L363.06,165.37 L363.90,165.32 L364.75,165.27 L365.60,165.22 L366.45,165.17 L367.29,165.12 L368.14,165.07 L368.99,165.03 L369.84,164.98 L370.69,164.93 L371.54,164.89 L372.38,164.84 L373.23,164.80 L374.08,164.75 L374.93,164.70 L375.78,164.66 L376.62,164.62 L377.47,164.57 L378.32,164.53 L379.17,164.49 L380.02,164.44 L380.87,164.40 L381.72,164.36 L382.56,164.32 L383.41,164.28 L384.26,164.24 L385.11,164.20 L385.96,164.16 L386.81,164.12 L387.66,164.08 L388.51,164.05 L389.36,164.01 L390.21,163.97 L391.05,163.94 L391.90,163.90 L392.75,163.87 L393.60,163.83 L394.45,163.80 L395.30,163.76 L396.15,163.73 L397.00,163.70" stroke="#8c008c" stroke-width="1.9" stroke-dasharray="1.8 1.645"/>
</g>
<text transform="translate(32.30 20.80) scale(0.89 1)" font-size="12.0" text-anchor="end">10</text>
<text transform="translate(32.30 50.06) scale(0.89 1)" font-size="12.0" text-anchor="end">8</text>
<text transform="translate(32.30 79.32) scale(0.89 1)" font-size="12.0" text-anchor="end">6</text>
<text transform="translate(32.30 108.58) scale(0.89 1)" font-size="12.0" text-anchor="end">4</text>
<text transform="translate(32.30 137.84) scale(0.89 1)" font-size="12.0" text-anchor="end">2</text>
<text transform="translate(32.30 167.10) scale(0.89 1)" font-size="12.0" text-anchor="end">0</text>
<text transform="translate(32.30 196.36) scale(0.89 1)" font-size="12.0" text-anchor="end">2</text>
<path d="M19.8,193.16h5.8" stroke="#000" stroke-width="0.6" fill="none"/>
<text transform="translate(32.30 225.62) scale(0.89 1)" font-size="12.0" text-anchor="end">4</text>
<path d="M19.8,222.42h5.8" stroke="#000" stroke-width="0.6" fill="none"/>
<text transform="translate(42.50 255.90) scale(0.89 1)" font-size="12.0" text-anchor="middle">0</text>
<text transform="translate(123.97 253.80) scale(0.9 1)" font-size="8.7"><tspan font-style="italic">π</tspan></text><path d="M129.07,258.30L133.17,247.70" stroke="#000" stroke-width="0.55" fill="none"/><text transform="translate(133.57 255.90) scale(0.9 1)" font-size="8.7">4</text>
<text transform="translate(212.55 253.80) scale(0.9 1)" font-size="8.7"><tspan font-style="italic">π</tspan></text><path d="M217.65,258.30L221.75,247.70" stroke="#000" stroke-width="0.55" fill="none"/><text transform="translate(222.15 255.90) scale(0.9 1)" font-size="8.7">2</text>
<text transform="translate(298.73 253.80) scale(0.9 1)" font-size="8.7">3</text><text transform="translate(303.43 253.80) scale(0.9 1)" font-size="8.7"><tspan font-style="italic">π</tspan></text><path d="M308.43,258.30L312.53,247.70" stroke="#000" stroke-width="0.55" fill="none"/><text transform="translate(312.93 255.90) scale(0.9 1)" font-size="8.7">4</text>
<text transform="translate(396.30 255.90) scale(1.25 1)" font-size="10.2" text-anchor="middle" font-style="italic">π</text>
<text transform="translate(152.30 270.80) scale(0.952 1)" font-size="14.0" textLength="52.10" lengthAdjust="spacing">Emission</text>
<text transform="translate(207.60 270.80) scale(0.952 1)" font-size="14.0" textLength="33.19" lengthAdjust="spacing">Angle</text>
<text transform="translate(244.20 270.80) scale(0.952 1)" font-size="14.0" font-style="italic">θ</text>
<text transform="translate(256.20 270.80) scale(0.952 1)" font-size="14.0">in</text>
<text transform="translate(269.90 270.80) scale(0.952 1)" font-size="14.0">rad</text>
<text transform="translate(15.60 232.70) rotate(-90) scale(1.0 1)" font-size="13.4" textLength="62.50" lengthAdjust="spacing">Differential</text>
<text transform="translate(15.60 165.90) rotate(-90) scale(1.0 1)" font-size="13.4" textLength="24.90" lengthAdjust="spacing">Rate</text>
<text transform="translate(13.60 137.40) rotate(-90) scale(1.0 1)" font-size="9.8">d<tspan font-style="italic">R</tspan></text>
<path d="M19.0,125.9L6.8,119.5" stroke="#000" stroke-width="0.7" fill="none"/>
<text transform="translate(16.80 121.80) rotate(-90) scale(1.0 1)" font-size="10.3">d<tspan font-style="italic">θ</tspan></text>
<text transform="translate(15.60 106.40) rotate(-90) scale(1.0 1)" font-size="13.4">in</text>
<text transform="translate(15.60 93.20) rotate(-90) scale(1.0 1)" font-size="14.3" textLength="15.30" lengthAdjust="spacing">10</text>
<path d="M8.9,77.6v-5.3" stroke="#000" stroke-width="0.6" fill="none"/>
<text transform="translate(10.70 70.70) rotate(-90) scale(1.1 1)" font-size="8.9">5</text>
<text transform="translate(15.60 62.40) rotate(-90) scale(1.0 1)" font-size="13.4">s</text>
<path d="M8.9,55.8v-5.0" stroke="#000" stroke-width="0.6" fill="none"/>
<text transform="translate(10.60 49.50) rotate(-90) scale(1.1 1)" font-size="8.9">1</text>
<text transform="translate(15.60 39.10) rotate(-90) scale(1.0 1)" font-size="13.4">rad</text>
<path d="M8.9,22.6v-5.0" stroke="#000" stroke-width="0.6" fill="none"/>
<text transform="translate(10.60 16.40) rotate(-90) scale(1.1 1)" font-size="8.9">1</text>
<text transform="translate(287.30 14.80) scale(0.89 1)" font-size="12.0" textLength="28.76" lengthAdjust="spacing">Index</text>
<text transform="translate(315.70 14.80) scale(0.89 1)" font-size="12.0" textLength="72.58" lengthAdjust="spacing">Combinations</text>
<text transform="translate(343.50 26.20) scale(0.89 1)" font-size="12.0" text-anchor="end" textLength="49.78" lengthAdjust="spacing">[0, 0, 4, 4]</text>
<path d="M354.05,22.75H385.4" stroke="#ff0000" stroke-width="1.75" fill="none"/>
<text transform="translate(343.50 39.40) scale(0.89 1)" font-size="12.0" text-anchor="end" textLength="49.78" lengthAdjust="spacing">[2, 2, 0, 0]</text>
<path d="M354.05,35.95H385.4" stroke="#0000ff" stroke-width="1.75" stroke-dasharray="6.95 5.48" fill="none"/>
<text transform="translate(343.50 52.60) scale(0.89 1)" font-size="12.0" text-anchor="end" textLength="49.78" lengthAdjust="spacing">[1, 1, 2, 2]</text>
<path d="M354.05,49.15H385.4" stroke="#00c000" stroke-width="1.75" stroke-dasharray="3.8 3.116" fill="none"/>
<text transform="translate(343.50 65.80) scale(0.89 1)" font-size="12.0" text-anchor="end" textLength="49.78" lengthAdjust="spacing">[2, 0, 0, 4]</text>
<path d="M354.05,62.35H384.6" stroke="#8c008c" stroke-width="1.9" stroke-dasharray="1.8 1.645" fill="none"/>
<text transform="translate(247.70 65.80) scale(0.89 1)" font-size="12.0" textLength="54.83" lengthAdjust="spacing">[0, 2, 4, 0],</text>
</svg>
</body></html>
